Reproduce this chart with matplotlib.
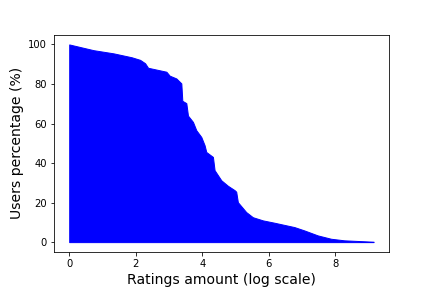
import matplotlib
matplotlib.use("Agg")
import matplotlib.pyplot as plt

# ratings amount (log scale) vs. percentage of users with at least that many ratings
log_ratings = [0, 0.73, 1.33, 1.88, 2.13, 2.28, 2.37, 2.92, 3.02, 3.22, 3.37, 3.40,
               3.52, 3.57, 3.72, 3.82, 3.97, 4.07, 4.12, 4.32, 4.37, 4.57, 4.77,
               4.97, 5.02, 5.07, 5.32, 5.52, 5.82, 6.17, 6.77, 7.07, 7.47, 7.87,
               8.27, 8.77, 9.15]
users_pct = [100, 97.1, 95.5, 93.5, 92.2, 90.5, 88.2, 86.2, 84.2, 82.8, 80.3, 71.5,
             70.3, 64, 60.8, 56.6, 53.2, 49, 45.6, 43.1, 36.4, 31.3, 28.5,
             26.3, 25.5, 20.2, 15.2, 12.6, 11, 9.8, 7.6, 5.9, 3.4, 1.7,
             0.9, 0.5, 0.2]

fig, ax = plt.subplots(figsize=(6, 4), dpi=72)
fig.subplots_adjust(bottom=0.125)
ax.fill_between(log_ratings, 0, users_pct, color='b')
ax.set_xlabel('Ratings amount (log scale)', fontsize=14)
ax.set_ylabel('Users percentage (%)', fontsize=14)
fig.savefig('out.png')
